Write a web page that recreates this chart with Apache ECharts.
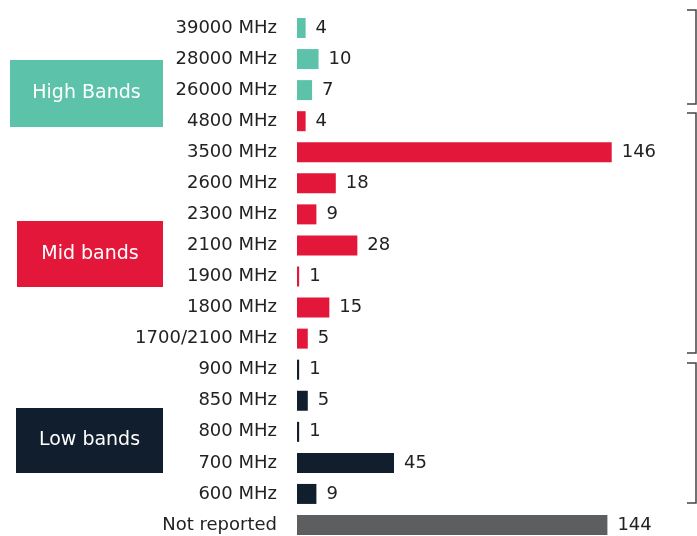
<!DOCTYPE html>
<html><head><meta charset="utf-8">
<script src="https://cdn.jsdelivr.net/npm/echarts@6/dist/echarts.min.js"></script>
<style>html,body{margin:0;padding:0;background:#fff}#c{width:697px;height:536px}</style>
</head><body><div id="c"></div>
<script>
const categories = ['39000 MHz','28000 MHz','26000 MHz','4800 MHz','3500 MHz','2600 MHz','2300 MHz','2100 MHz','1900 MHz','1800 MHz','1700/2100 MHz','900 MHz','850 MHz','800 MHz','700 MHz','600 MHz','Not reported'];
const values = [4,10,7,4,146,18,9,28,1,15,5,1,5,1,45,9,144];
const groups = ['high','high','high','mid','mid','mid','mid','mid','mid','mid','mid','low','low','low','low','low','none'];
const groupColors = {high:'#5cc3aa', mid:'#e3173a', low:'#111e2e', none:'#5c5e60'};
const groupLabels = [
  {name:'High Bands', color:'#5cc3aa', x:10, y:60, w:153, h:67},
  {name:'Mid bands', color:'#e3173a', x:17, y:221, w:146, h:66},
  {name:'Low bands', color:'#111e2e', x:16, y:408, w:147, h:65}
];
const brackets = [[10,104],[113,353],[363,503]];

const FONT = 'DejaVu Sans';
const chart = echarts.init(document.getElementById('c'), null, {renderer:'canvas'});
const graphics = [];
groupLabels.forEach(g => {
  graphics.push({type:'rect', left:g.x, top:g.y, shape:{width:g.w, height:g.h}, style:{fill:g.color}, z:10});
  graphics.push({type:'text', x:g.x+g.w/2, y:g.y+g.h/2, style:{text:g.name, fill:'#fff', font:'19px "'+FONT+'"', textAlign:'center', textVerticalAlign:'middle'}, z:11});
});
brackets.forEach(b => {
  graphics.push({type:'polyline', shape:{points:[[687,b[0]],[696,b[0]],[696,b[1]],[687,b[1]]]}, style:{stroke:'#444', lineWidth:1.5, fill:null}, z:10});
});
chart.setOption({
  animation:false,
  grid:{left:297, top:28, width:388, height:497},
  xAxis:{type:'value', min:0, max:180, show:false},
  yAxis:{type:'category', data:categories, inverse:true, boundaryGap:false,
    axisLine:{show:false}, axisTick:{show:false}, splitLine:{show:false},
    axisLabel:{margin:20, color:'#222', fontSize:18, fontFamily:FONT}},
  series:[{type:'bar', barWidth:20,
    data: values.map((v,i)=>({value:v, itemStyle:{color:groupColors[groups[i]]}})),
    label:{show:true, position:'right', distance:10, color:'#222', fontSize:18, fontFamily:FONT}
  }],
  graphic:graphics
});
</script></body></html>
